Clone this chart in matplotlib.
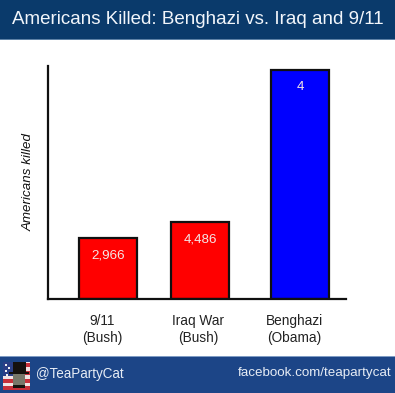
import matplotlib
matplotlib.use("Agg")
import matplotlib.pyplot as plt
from matplotlib.patches import Rectangle

# Data: bar heights as drawn (the picture's bars do not follow the printed labels)
categories = ["9/11\n(Bush)", "Iraq War\n(Bush)", "Benghazi\n(Obama)"]
bar_heights = [61, 77, 229]
value_labels = ["2,966", "4,486", "4"]
title = "Americans Killed: Benghazi vs. Iraq and 9/11"
ylabel = "Americans killed"
handle = "@TeaPartyCat"
site = "facebook.com/teapartycat"

W, H = 395, 393
plt.rcParams['font.family'] = ['Liberation Sans', 'DejaVu Sans']
fig = plt.figure(figsize=(W / 100, H / 100), dpi=100, facecolor="white")

def frect(x0, y0, x1, y1, color, z=1):
    fig.add_artist(Rectangle((x0 / W, 1 - y1 / H), (x1 - x0) / W, (y1 - y0) / H,
                             transform=fig.transFigure, facecolor=color,
                             edgecolor="none", zorder=z))

# Header and footer bands
frect(0, 0, W, 39, "#0a3a6b")
frect(0, 39, W, 40, "#5d81a6")
frect(0, 356, W, H, "#1c4587")
frect(0, 356, W, 357, "#7f9cc4")
fig.text(198 / W, 1 - 19.5 / H, title, color="#f2f6fb", fontsize=13.5, ha="center", va="center", zorder=3)
fig.text(36 / W, 1 - 374 / H, handle, color="#e6ecf5", fontsize=9.75, ha="left", va="center", zorder=3)
fig.text(391.5 / W, 1 - 373 / H, site, color="#e6ecf5", fontsize=9.6, ha="right", va="center", zorder=3)

# Plot area, in pixel-like units
ax = fig.add_axes([48 / W, 1 - 298.5 / H, (346 - 48) / W, (298.5 - 66) / H])
ax.set_xlim(48, 346)
ax.set_ylim(0, 232.5)
positions = [108, 200, 300]
label_positions = [102, 198, 294]
colors = ["#ff0000", "#ff0000", "#0000ff"]
ax.bar(positions, bar_heights, width=58, color=colors, edgecolor="#101010", linewidth=1.6, zorder=2)
for x, h, lab in zip(positions, bar_heights, value_labels):
    ax.text(x, h - 17.5, lab, color="#f4e6e6", fontsize=9.6, ha="center", va="center", zorder=3)
for s in ("top", "right"):
    ax.spines[s].set_visible(False)
for s in ("left", "bottom"):
    ax.spines[s].set_linewidth(1.6)
    ax.spines[s].set_color("#101010")
ax.set_yticks([])
ax.set_xticks(label_positions)
ax.set_xticklabels(categories, fontsize=9.8, color="#222222", linespacing=1.25)
ax.tick_params(axis="x", length=0, pad=11)
fig.text(29 / W, 1 - 181.5 / H, ylabel, rotation=90, style="italic", fontsize=9.6, ha="center", va="center", color="#111111")

# Avatar: flag with a top-hatted cat
frect(3, 362, 30, 390, "#f2e4e4", 2)
for y in (363, 371, 379, 386):
    frect(3, y, 30, y + 4, "#c8303a", 2)
frect(3, 362, 13, 376, "#2b3f86", 2)
for sx, sy in ((5, 364), (8, 367), (5, 370), (9, 372), (6, 374)):
    frect(sx, sy, sx + 1.5, sy + 1.5, "#f0f0f0", 3)
frect(13, 362, 26, 373, "#15110e", 3)
frect(9, 372, 29, 374, "#15110e", 3)
frect(13, 374, 25, 385, "#77776a", 3)
frect(13, 385, 25, 388, "#15110e", 3)

fig.savefig("out.png", dpi=100, facecolor="white")
